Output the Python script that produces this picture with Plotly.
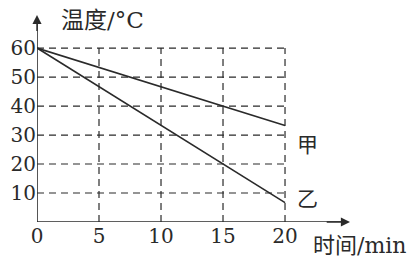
import plotly.graph_objects as go

# Data
time_min = [0, 15, 20]
temp_jia = [60, 40, 33.3]
temp_yi = [60, 20, 6.7]
x_ticks = [0, 5, 10, 15, 20]
y_ticks = [10, 20, 30, 40, 50, 60]
x_label_cn = "时间"
x_label_unit = "/min"
y_label_cn = "温度"
y_label_unit = "/°C"
series_names = ["甲", "乙"]

INK = "#2a2a2a"
SERIF = "DejaVu Serif"
CJK = "Noto Sans CJK SC"

fig = go.Figure()

shapes = []
for yv in y_ticks:
    shapes.append(dict(type="line", xref="x", yref="y", x0=0, x1=max(x_ticks), y0=yv, y1=yv,
                       line=dict(color=INK, width=1.2, dash="7px,5px")))
for xv in x_ticks[1:]:
    shapes.append(dict(type="line", xref="x", yref="y", x0=xv, x1=xv, y0=0, y1=max(y_ticks),
                       line=dict(color=INK, width=1.2, dash="7px,5px")))
XMAX = 25.24
YMAX = 71.4
shapes.append(dict(type="line", xref="x", yref="y", x0=0, x1=XMAX - 0.6, y0=0, y1=0,
                   line=dict(color=INK, width=1.6)))
shapes.append(dict(type="line", xref="x", yref="y", x0=0, x1=0, y0=0, y1=YMAX - 2,
                   line=dict(color=INK, width=1.6)))

fig.add_trace(go.Scatter(x=time_min, y=temp_jia, mode="lines", name=series_names[0],
                         line=dict(color=INK, width=1.6), showlegend=False))
fig.add_trace(go.Scatter(x=time_min, y=temp_yi, mode="lines", name=series_names[1],
                         line=dict(color=INK, width=1.6), showlegend=False))

def mixed(cn, unit):
    return f'{cn}<span style="font-family:{SERIF}">{unit}</span>'

annotations = [
    dict(x=XMAX, y=0, ax=XMAX - 2, ay=0, xref="x", yref="y", axref="x", ayref="y",
         showarrow=True, arrowhead=2, arrowsize=1.3, arrowwidth=1.4, arrowcolor=INK, text=""),
    dict(x=0, y=YMAX, ax=0, ay=YMAX - 6, xref="x", yref="y", axref="x", ayref="y",
         showarrow=True, arrowhead=2, arrowsize=1.3, arrowwidth=1.4, arrowcolor=INK, text=""),
    dict(x=0.07, y=0.985, xref="paper", yref="paper", xanchor="left", yanchor="middle",
         text=mixed(y_label_cn, y_label_unit), showarrow=False,
         font=dict(family=CJK, size=23, color=INK)),
    dict(x=0.875, y=-0.10, xref="paper", yref="paper", xanchor="left", yanchor="middle",
         text=mixed(x_label_cn, x_label_unit), showarrow=False,
         font=dict(family=CJK, size=22, color=INK)),
    dict(x=21.8, y=27.2, xref="x", yref="y", text=series_names[0], showarrow=False,
         font=dict(family=CJK, size=21, color=INK)),
    dict(x=21.8, y=8.6, xref="x", yref="y", text=series_names[1], showarrow=False,
         font=dict(family=CJK, size=21, color=INK)),
]

fig.update_layout(
    width=415, height=259,
    margin=dict(l=37, r=65, t=15, b=37, pad=0),
    paper_bgcolor="white", plot_bgcolor="white",
    shapes=shapes, annotations=annotations,
    xaxis=dict(range=[0, XMAX], tickvals=x_ticks, ticktext=[str(v) for v in x_ticks],
               showgrid=False, zeroline=False, showline=False, ticks="", automargin=False,
               tickfont=dict(family=SERIF, size=20, color=INK)),
    yaxis=dict(range=[0, YMAX], tickvals=y_ticks, ticktext=[str(v) for v in y_ticks],
               showgrid=False, zeroline=False, showline=False, ticks="", automargin=False,
               ticklabelstandoff=0,
               tickfont=dict(family=SERIF, size=20, color=INK)),
)

fig.write_html("out.html")
